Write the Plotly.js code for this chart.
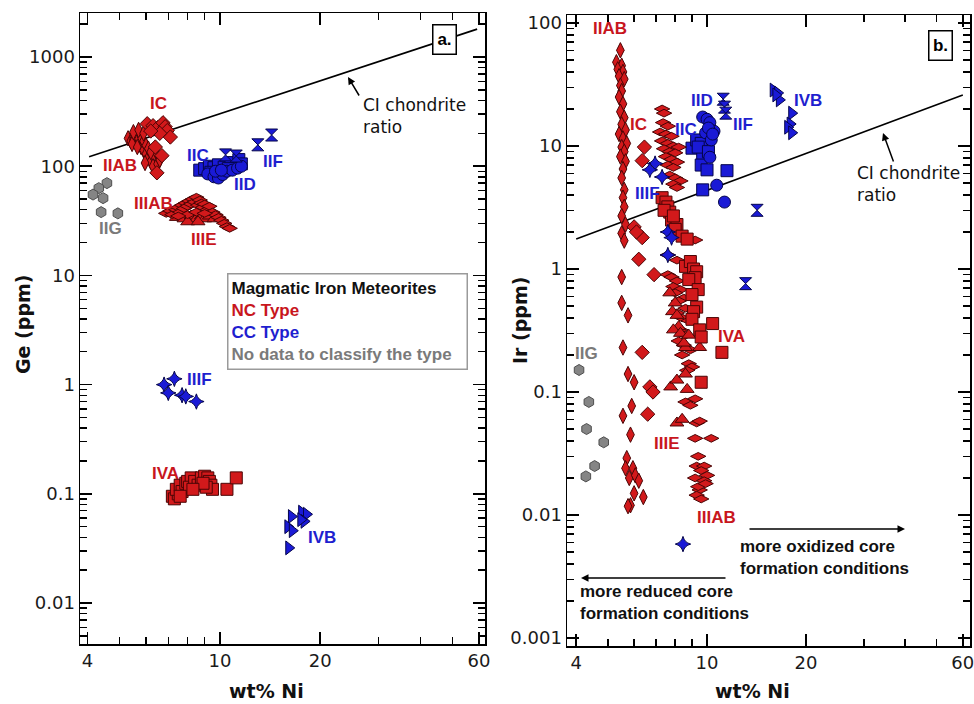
<!DOCTYPE html>
<html><head><meta charset="utf-8">
<script src="https://cdn.plot.ly/plotly-3.0.1.min.js"></script>
<style>html,body{margin:0;padding:0;background:#fff}#chart{width:974px;height:704px}</style>
</head><body><div id="chart"></div>
<script>
// ===== Panel a: Ge (ppm) vs wt% Ni =====
const a_IIAB_ni = [5.3,5.4,5.5,5.5,5.6,5.6,5.7,5.7,5.8,5.8,5.9,5.9,6.0,6.0,6.1,6.1,6.2,6.3,6.3,6.4,6.5,6.6,5.96,6.6,5.45,5.65,6.2,5.5,5.7,5.9];
const a_IIAB_ge = [180,170,185,175,165,190,160,178,150,185,140,170,155,130,120,145,110,125,100,140,105,115,107,114,160,150,135,205,215,200];
const a_IC_ni = [6.05,6.3,6.5,6.75,6.85,6.95,7.1,6.6,6.4,6.7,6.2,6.47];
const a_IC_ge = [245,235,225,250,230,212,185,200,150,125,210,87];
const a_IIIAB_ni = [6.9,7.1,7.2,7.4,7.5,7.6,7.7,7.8,7.9,8.0,8.1,8.2,8.3,8.4,8.5,8.6,8.7,8.8,8.9,9.0,9.2,9.3,9.5,9.7,9.9,10.1,10.3,10.5,10.7,8.0,8.5,9.0,7.5];
const a_IIIAB_ge = [37,39,36,40,42,38,44,41,46,43,48,45,50,47,52,44,49,46,42,45,40,43,38,36,34,32,30,28,27,36,38,37,35];
const a_IIIE_ni = [7.4,7.8,8.2,8.5,8.8,9.0,9.3,8.0,8.6,9.6];
const a_IIIE_ge = [34,33,35,33,35,33,35,31,31,33];
const a_IVA_ni = [7.2,7.3,7.5,7.4,7.6,7.7,7.9,8.0,8.2,8.1,8.4,8.6,8.8,9.0,9.2,9.3,9.4,9.5,9.1,8.9,10.5,11.2,7.6,8.3];
const a_IVA_ge = [0.095,0.09,0.1,0.11,0.12,0.105,0.125,0.13,0.14,0.115,0.13,0.12,0.14,0.145,0.14,0.13,0.12,0.11,0.115,0.125,0.11,0.14,0.095,0.11];
const a_IIC_ni = [8.7,9.0,9.3,9.6,9.9,10.3,10.8,11.4,11.6,10.6,9.4];
const a_IIC_ge = [92,95,100,97,103,98,108,115,105,95,88];
const a_IID_ni = [9.2,9.6,9.9,10.2,10.5,10.9,11.3,9.7,10.1,11.6];
const a_IID_ge = [85,80,78,84,90,92,96,90,92,100];
const a_IIF_ni = [10.4,11.2,13.0,14.3];
const a_IIF_ge = [127,124,157,193];
const a_IIIF_ni = [6.8,7.3,7.0,7.7,7.9,8.5];
const a_IIIF_ge = [1.0,1.13,0.84,0.80,0.78,0.70];
const a_IVB_ni = [16.4,16.0,16.5,17.6,18.2,17.9,17.5,16.1];
const a_IVB_ge = [0.062,0.05,0.046,0.068,0.065,0.056,0.058,0.032];
const a_IIG_ni = [4.58,4.33,4.16,4.46,4.40,4.94];
const a_IIG_ge = [70,63,55,51,38,37];
const a_CI_ni = [4.05,59.2];
const a_CI_ge = [122,1800];

// ===== Panel b: Ir (ppm) vs wt% Ni =====
const b_IIAB_ni = [5.45,5.3,5.5,5.35,5.55,5.4,5.6,5.45,5.5,5.4,5.55,5.45,5.6,5.5,5.65,5.4,5.55,5.7,5.5,5.6,5.45,5.65,5.55,5.5,5.6,5.55,5.6,5.5,5.65,5.5,5.6,5.5,5.5,5.75,5.55,5.75,6.0,5.9,5.55,5.85,5.7,5.65,5.95,5.8,6.05,6.2,6.0,6.4,5.85,5.75];
const b_IIAB_ir = [60,48,45,42,40,37,35,31,28,25,22,19,17,15,13.5,12.5,11.5,10.5,9.8,9,8.2,7.5,6.5,5.5,4.4,3.8,3.2,2.7,2.3,1.95,1.7,0.86,0.53,0.42,0.23,0.14,0.12,0.077,0.064,0.045,0.029,0.024,0.024,0.02,0.021,0.019,0.015,0.014,0.012,0.0118];
const b_IC_ni = [6.45,6.35,6.0,6.35,6.2,6.9,6.35,6.7,6.85,6.6,6.1];
const b_IC_ir = [9.8,7.6,2.2,1.8,1.2,0.9,0.21,0.11,0.1,0.066,2.0];
const b_IIIAB_ni = [7.3,7.4,7.35,7.6,7.2,7.5,7.8,7.3,7.6,7.9,8.2,7.4,7.7,8.0,7.5,7.8,8.1,7.6,7.9,7.7,8.0,8.3,7.9,8.1,
  8.9,9.2,8.1,7.6,
  7.6,7.8,8.1,7.9,8.3,8.0,8.5,8.2,8.6,8.1,8.4,8.8,8.3,8.6,8.2,8.5,8.9,8.4,
  8.8,9.0,8.7,8.6,8.9,9.2,9.3,9.5,9.2,10.3,9.4,9.3,9.8,9.6,9.2,10.0,9.8,9.5,9.3,9.6,9.4,9.9];
const b_IIIAB_ir = [20,18.5,15.5,14.5,13,12.5,12,11,10.5,10,9.8,9.5,9,8.8,8.2,7.8,7.4,7,6.7,5.8,5.5,5.2,4.9,4.6,
  1.72,1.72,1.18,1.3,
  0.9,0.86,0.8,0.72,0.68,0.64,0.58,0.55,0.48,0.44,0.4,0.38,0.32,0.29,0.26,0.24,0.22,0.2,
  0.17,0.16,0.15,0.083,0.078,0.088,0.056,0.058,0.042,0.042,0.03,0.025,0.025,0.023,0.02,0.021,0.019,0.016,0.0145,0.0135,0.017,0.018];
const b_IIIE_ni = [7.7,8.0,7.85,8.1,8.2,7.9,8.6,9.5,8.5,7.75,8.1,8.7,8.6,8.1,8.4,8.3,8.8];
const b_IIIE_ir = [0.64,0.53,0.45,0.42,0.34,0.32,0.23,0.23,0.25,0.11,0.125,0.105,0.14,0.056,0.06,0.3,0.29];
const b_IVA_ni = [7.3,7.5,7.6,7.7,7.8,8.1,8.0,8.4,8.7,8.6,8.9,9.1,9.3,9.2,8.8,9.4,9.0,9.3,9.1,9.0,9.5,9.6,10.4,11.1,9.6,7.4,7.9];
const b_IVA_ir = [3.8,3.5,3.2,2.9,2.5,2.3,2.1,1.85,1.75,1.05,1.15,1.0,0.95,0.85,0.82,0.68,0.62,0.49,0.45,0.39,0.32,0.28,0.36,0.21,0.12,3.0,2.7];
const b_IIC_ni = [9.0,9.3,9.6,9.7,9.6,10.0,9.7,11.5,9.4,10.1];
const b_IIC_ir = [9.6,11.2,10.5,8.5,7.0,6.4,4.4,6.3,9.8,9.0];
const b_IID_ni = [9.7,10.0,10.2,9.9,10.5,10.3,10.2,10.7,11.3,10.1,10.4];
const b_IID_ir = [17.2,16.5,15.5,12.8,13.2,11.2,8.1,4.8,3.5,14,12.5];
const b_IIF_ni = [11.2,11.3,11.4,14.2,13.1];
const b_IIF_ir = [24,20.7,18.5,3.0,0.76];
const b_IVB_ni = [15.9,16.4,16.6,18.1,17.9,17.6,18.1,16.2];
const b_IVB_ir = [28.5,27,23.7,18.5,15.1,14.2,12.8,26];
const b_IIIF_ni = [6.95,6.7,7.3,7.6,7.8,7.6,8.45];
const b_IIIF_ir = [7.2,6.4,5.6,2.0,1.8,1.3,0.0058];
const b_IIG_ni = [4.08,4.37,4.3,4.85,4.55,4.28];
const b_IIG_ir = [0.151,0.083,0.05,0.039,0.025,0.0206];
const b_CI_ni = [4.0,60];
const b_CI_ir = [1.75,26];

// ticks
const xTickVals = [4,10,20,60];
const xTickText = ['4','10','20','60'];
const xMinor = [5,6,7,8,9,30,40,50];
const yTickA = [0.01,0.1,1,10,100,1000];
const yTickB = [0.001,0.01,0.1,1,10,100];

// ===== styling =====
const RED = '#d2191b', REDL = '#4a0505';
const BLUE = '#1a1ad6', BLUEL = '#05054a';
const GRAY = '#858585', GRAYL = '#4e4e4e';
const TRED = '#c8161d', TBLUE = '#1f1fcf', TGRAY = '#7a7a7a';
const W = 974, H = 704;

const yMinor = [];
for (let e = -3; e <= 3; e++) for (let k = 2; k <= 9; k++) yMinor.push(+(k * Math.pow(10, e)).toPrecision(3));

function pts(x, y, sym, size, fill, line, p) {
  return {type:'scatter', mode:'markers', x:x, y:y,
    xaxis: p === 'a' ? 'x' : 'x2', yaxis: p === 'a' ? 'y' : 'y2',
    marker:{symbol:sym, size:size, color:fill, line:{color:line, width:1}},
    hoverinfo:'skip', showlegend:false};
}
function ciLine(x, y, p) {
  return {type:'scatter', mode:'lines', x:x, y:y,
    xaxis: p === 'a' ? 'x' : 'x2', yaxis: p === 'a' ? 'y' : 'y2',
    line:{color:'#000', width:1.6}, hoverinfo:'skip', showlegend:false};
}

const traces = [
  ciLine(a_CI_ni, a_CI_ge, 'a'),
  pts(a_IIG_ni, a_IIG_ge, 'hexagon', 11, GRAY, GRAYL, 'a'),
  pts(a_IIC_ni, a_IIC_ge, 'square', 12, BLUE, BLUEL, 'a'),
  pts(a_IID_ni, a_IID_ge, 'circle', 12, BLUE, BLUEL, 'a'),
  pts(a_IIF_ni, a_IIF_ge, 'hourglass', 12, BLUE, BLUEL, 'a'),
  pts(a_IIIF_ni, a_IIIF_ge, 'star-diamond', 11, BLUE, BLUEL, 'a'),
  pts(a_IVB_ni, a_IVB_ge, 'triangle-right', 12, BLUE, BLUEL, 'a'),
  pts(a_IVA_ni, a_IVA_ge, 'square', 12, RED, REDL, 'a'),
  pts(a_IIIE_ni, a_IIIE_ge, 'triangle-up', 12, RED, REDL, 'a'),
  pts(a_IIIAB_ni, a_IIIAB_ge, 'diamond-wide', 11, RED, REDL, 'a'),
  pts(a_IIAB_ni, a_IIAB_ge, 'diamond-tall', 11, RED, REDL, 'a'),
  pts(a_IC_ni, a_IC_ge, 'diamond', 11, RED, REDL, 'a'),

  ciLine(b_CI_ni, b_CI_ir, 'b'),
  pts(b_IIG_ni, b_IIG_ir, 'hexagon', 11, GRAY, GRAYL, 'b'),
  pts(b_IIC_ni, b_IIC_ir, 'square', 12, BLUE, BLUEL, 'b'),
  pts(b_IID_ni, b_IID_ir, 'circle', 12, BLUE, BLUEL, 'b'),
  pts(b_IIF_ni, b_IIF_ir, 'hourglass', 12, BLUE, BLUEL, 'b'),
  pts(b_IVB_ni, b_IVB_ir, 'triangle-right', 12, BLUE, BLUEL, 'b'),
  pts(b_IIAB_ni, b_IIAB_ir, 'diamond-tall', 11, RED, REDL, 'b'),
  pts(b_IC_ni, b_IC_ir, 'diamond', 11, RED, REDL, 'b'),
  pts(b_IIIAB_ni, b_IIIAB_ir, 'diamond-wide', 11, RED, REDL, 'b'),
  pts(b_IIIE_ni, b_IIIE_ir, 'triangle-up', 12, RED, REDL, 'b'),
  pts(b_IVA_ni, b_IVA_ir, 'square', 12, RED, REDL, 'b'),
  pts(b_IIIF_ni, b_IIIF_ir, 'star-diamond', 11, BLUE, BLUEL, 'b')
];

function P(px, py) { return {x: px / W, y: 1 - py / H, xref:'paper', yref:'paper'}; }
function label(txt, px, py, col) {
  return Object.assign(P(px, py), {text:'<b>' + txt + '</b>', showarrow:false, xanchor:'center', yanchor:'middle',
    font:{family:'Liberation Sans', size:17, color:col}});
}
function note(txt, px, py, fam, size, bold) {
  return Object.assign(P(px, py), {text: bold ? '<b>' + txt.split('<br>').join('</b><br><b>') + '</b>' : txt,
    showarrow:false, xanchor:'left', yanchor:'middle', align:'left',
    font:{family:fam, size:size, color:'#111'}});
}
function arrow(hx, hy, ax, ay) {
  return Object.assign(P(hx, hy), {text:'', showarrow:true, ax:ax, ay:ay, arrowhead:2, arrowsize:1,
    arrowwidth:1.5, arrowcolor:'#000', standoff:0, startstandoff:0});
}
function boxLabel(txt, px, py) {
  return Object.assign(P(px, py), {text:'<b>' + txt + '</b>', showarrow:false, xanchor:'center', yanchor:'middle',
    font:{family:'Liberation Sans', size:17, color:'#000'}, bgcolor:'#fff', bordercolor:'#000', borderwidth:1.5,
    borderpad:3, width:16, height:22});
}
function axTitle(txt, px, py, angle) {
  return Object.assign(P(px, py), {text:'<b>' + txt + '</b>', textangle:angle, showarrow:false, xanchor:'center', yanchor:'middle',
    font:{family:'DejaVu Sans', size:19, color:'#111'}});
}

const annotations = [
  label('IC', 158, 104, TRED), label('IIAB', 120, 165, TRED), label('IIC', 198, 155, TBLUE),
  label('IID', 245, 184, TBLUE), label('IIF', 273, 161, TBLUE), label('IIIAB', 153, 203, TRED),
  label('IIIE', 204, 240, TRED), label('IIG', 110, 229, TGRAY), label('IIIF', 199, 379, TBLUE),
  label('IVA', 165, 473, TRED), label('IVB', 322, 537, TBLUE),
  label('IIAB', 610, 28, TRED), label('IC', 638, 125, TRED), label('IIC', 686, 129, TBLUE),
  label('IID', 702, 100, TBLUE), label('IIF', 743, 125, TBLUE), label('IVB', 808, 100, TBLUE),
  label('IIIF', 647, 193, TBLUE), label('IVA', 731, 336, TRED), label('IIG', 586, 353, TGRAY),
  label('IIIE', 667, 443, TRED), label('IIIAB', 716, 517, TRED),
  boxLabel('a.', 444, 39), boxLabel('b.', 940, 45),
  note('CI chondrite<br>ratio', 361, 115.5, 'DejaVu Sans', 17, false),
  arrow(348, 77, 12, 20),
  note('CI chondrite<br>ratio', 855, 183.5, 'DejaVu Sans', 17, false),
  arrow(883, 133, 11, 30),
  arrow(905, 529, -157, 0),
  note('more oxidized core<br>formation conditions', 738, 557.5, 'Liberation Sans', 17, true),
  arrow(581, 578, 146, 0),
  note('more reduced core<br>formation conditions', 578, 602.5, 'Liberation Sans', 17, true),
  Object.assign(P(227, 273), {
    text:'<b>Magmatic Iron Meteorites</b><br><b><span style="color:' + TRED + '">NC Type</span></b><br>' +
         '<b><span style="color:' + TBLUE + '">CC Type</span></b><br><b><span style="color:' + TGRAY + '">No data to classify the type</span></b>',
    showarrow:false, xanchor:'left', yanchor:'top', align:'left', valign:'middle',
    font:{family:'Liberation Sans', size:17, color:'#111'}, bgcolor:'#fff', bordercolor:'#9a9a9a',
    borderwidth:1.5, borderpad:3, width:232, height:88}),
  axTitle('Ge (ppm)', 23, 325, -90),
  axTitle('Ir (ppm)', 520, 321, -90),
  axTitle('wt% Ni', 266, 691, 0),
  axTitle('wt% Ni', 752, 691, 0)
];

const tf = {family:'DejaVu Sans', size:18, color:'#1a1a1a'};
function axis(extra, minorVals) {
  return Object.assign({type:'log', showline:true, linecolor:'#000', linewidth:1.5, mirror:'ticks',
    ticks:'inside', ticklen:12, tickwidth:1.6, tickcolor:'#000', tickfont:tf, showgrid:false, zeroline:false,
    ticklabeloverflow:'allow',
    minor:{tickvals:minorVals, ticks:'inside', ticklen:7, tickwidth:1.4, tickcolor:'#000', showgrid:false}}, extra);
}

const layout = {
  width:W, height:H, margin:{l:0, r:0, t:0, b:0}, paper_bgcolor:'#fff', plot_bgcolor:'rgba(0,0,0,0)',
  showlegend:false, hovermode:false,
  xaxis: axis({domain:[80/W, 485/W], range:[0.580, 1.796], anchor:'y', tickvals:xTickVals, ticktext:xTickText}, xMinor),
  yaxis: axis({domain:[1-644/H, 1-13/H], range:[-2.375, 3.403], anchor:'x', tickvals:yTickA, ticktext:yTickA.map(String)}, yMinor),
  xaxis2: axis({domain:[567/W, 970/W], range:[0.574, 1.80], anchor:'y2', tickvals:xTickVals, ticktext:xTickText}, xMinor),
  yaxis2: axis({domain:[1-646/H, 1-15/H], range:[-3.065, 2.065], anchor:'x2', tickvals:yTickB, ticktext:yTickB.map(String)}, yMinor),
  annotations: annotations
};

Plotly.newPlot('chart', traces, layout, {displayModeBar:false, staticPlot:true});
</script>
</body></html>
